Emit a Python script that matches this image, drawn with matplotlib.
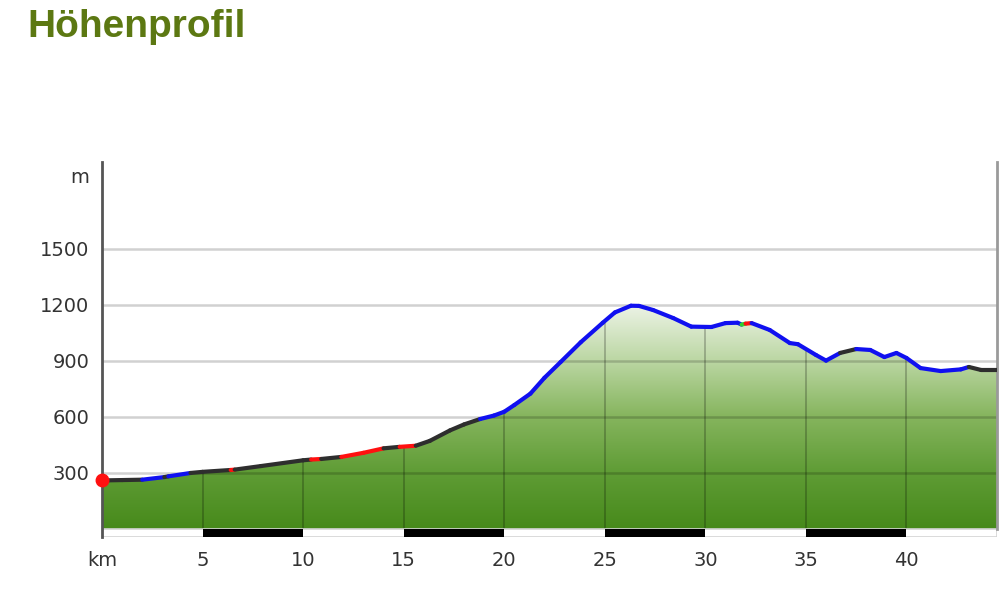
import numpy as np
import matplotlib
matplotlib.use("Agg")
import matplotlib.pyplot as plt
from matplotlib.collections import LineCollection
from matplotlib.colors import LinearSegmentedColormap
from matplotlib.patches import Polygon, Rectangle

# ---------------------------- data ---------------------------- #
dist_km = [0.0, 1.0, 2.0, 3.1, 3.3, 4.4, 5.0, 6.4, 6.6, 7.9, 10.0, 10.4, 10.9,
           11.9, 13.0, 14.0, 14.8, 15.6, 16.3, 17.3, 18.0, 18.8, 19.5, 20.0,
           20.5, 21.3, 22.0, 22.8, 23.8, 24.9, 25.5, 26.3, 26.7, 27.4, 28.4,
           29.3, 30.3, 31.0, 31.6, 31.8, 32.0, 32.3, 33.2, 34.2, 34.6, 35.5,
           36.0, 36.7, 37.5, 38.2, 38.9, 39.5, 40.0, 40.7, 41.7, 42.7, 43.1,
           43.7, 44.5]
elev_m = [260, 262, 264, 278, 282, 300, 306, 316, 318, 337, 368, 372, 375,
          386, 408, 432, 440, 446, 472, 528, 560, 589, 608, 628,
          664, 725, 810, 894, 1000, 1105, 1160, 1196, 1195, 1173, 1130,
          1084, 1082, 1103, 1105, 1095, 1100, 1103, 1066, 996, 990, 932,
          902, 943, 964, 959, 921, 943, 916, 862, 846, 855, 868,
          852, 852]

# colour of the track surface, section starts (km)
sect_start = [0, 2.0, 3.1, 3.3, 4.4, 6.4, 6.6, 10.4, 10.9, 11.9, 14.0, 14.8,
              15.6, 18.8, 31.8, 32.0, 32.3, 36.7, 37.5, 43.1]
sect_kind = ['k', 'b', 'k', 'b', 'k', 'r', 'k', 'r', 'k', 'r', 'k', 'r',
             'k', 'b', 'g', 'r', 'b', 'k', 'b', 'k']

y_ticks = [300, 600, 900, 1200, 1500]
x_ticks = [0, 5, 10, 15, 20, 25, 30, 35, 40]
x_labels = ['km', '5', '10', '15', '20', '25', '30', '35', '40']
scale_bars = [5, 15, 25, 35]   # black 5 km blocks

kind_color = {'k': '#2e2e2e', 'b': '#1010f0', 'r': '#ff1010', 'g': '#30d030'}

x = np.array(dist_km)
y = np.array(elev_m)
x_max = 44.5
y_lo, y_hi = -43, 1966

fig = plt.figure(figsize=(10, 5.9), dpi=100)
ax = fig.add_axes([0.102, 1 - 537 / 590, 0.895, 375 / 590])
ax.set_xlim(0, x_max)
ax.set_ylim(y_lo, y_hi)

# ---------------- gradient fill under the profile ---------------- #
cmap = LinearSegmentedColormap.from_list(
    'hp', [(0.0, '#478a1b'), (0.25, '#5f9c35'), (0.5, '#86b55e'),
           (0.75, '#bcd7a4'), (1.0, '#eef4e8')])
grad = np.linspace(0, 1, 256).reshape(-1, 1)
poly = Polygon(np.column_stack([np.r_[x[0], x, x[-1]], np.r_[0, y, 0]]),
               closed=True, fc='none', ec='none')
ax.add_patch(poly)
im = ax.imshow(grad, cmap=cmap, origin='lower', aspect='auto',
               extent=(0, x_max, 0, 1210), zorder=1)
im.set_clip_path(poly)

# grid
for v in y_ticks:
    ax.plot([0, x_max], [v, v], color='k', alpha=0.18, lw=1.8, zorder=2)
for v in x_ticks[1:]:
    ln, = ax.plot([v, v], [0, y_hi], color='k', alpha=0.22, lw=1.4, zorder=2)
    ln.set_clip_path(poly)

# --------------------- coloured profile line --------------------- #
pts = np.column_stack([x, y])
segs = np.stack([pts[:-1], pts[1:]], axis=1)
mids = (x[:-1] + x[1:]) / 2
idx = np.searchsorted(sect_start, mids, side='right') - 1
cols = [kind_color[sect_kind[i]] for i in idx]
lc = LineCollection(segs, colors=cols, lw=3, capstyle='round',
                    joinstyle='round', zorder=4)
ax.add_collection(lc)
ax.plot(x[0], y[0], 'o', color='#ff1010', ms=9, zorder=5, clip_on=False)

# ------------------------ km scale strip ------------------------- #
ax.add_patch(Rectangle((0, y_lo + 2), x_max, -y_lo - 2, fc='white',
                       ec='#d4d4d4', lw=1.2, zorder=2))
for s in scale_bars:
    ax.add_patch(Rectangle((s, y_lo + 2), 5, -y_lo - 2, fc='black',
                           ec='none', zorder=3))

# ----------------------------- axes ------------------------------ #
for sp in ['top', 'bottom', 'right']:
    ax.spines[sp].set_visible(False)
ax.spines['left'].set_color('#555555')
ax.spines['left'].set_linewidth(2)
ax.plot([x_max, x_max], [0, y_hi], color='#9a9a9a', lw=2, zorder=3,
        clip_on=False)

ax.set_yticks(y_ticks + [1896])
ax.set_yticklabels([str(v) for v in y_ticks] + ['m'])
ax.set_xticks(x_ticks)
ax.set_xticklabels(x_labels)
ax.tick_params(axis='y', length=0, pad=9, labelsize=14, labelcolor='#333333')
ax.tick_params(axis='x', length=0, pad=10, labelsize=14, labelcolor='#333333')

fig.text(0.027, 0.955, 'Höhenprofil', fontsize=28, fontweight='bold',
         family='Liberation Sans', color='#5c7812', va='center', ha='left')

fig.savefig('out.png', dpi=100)
